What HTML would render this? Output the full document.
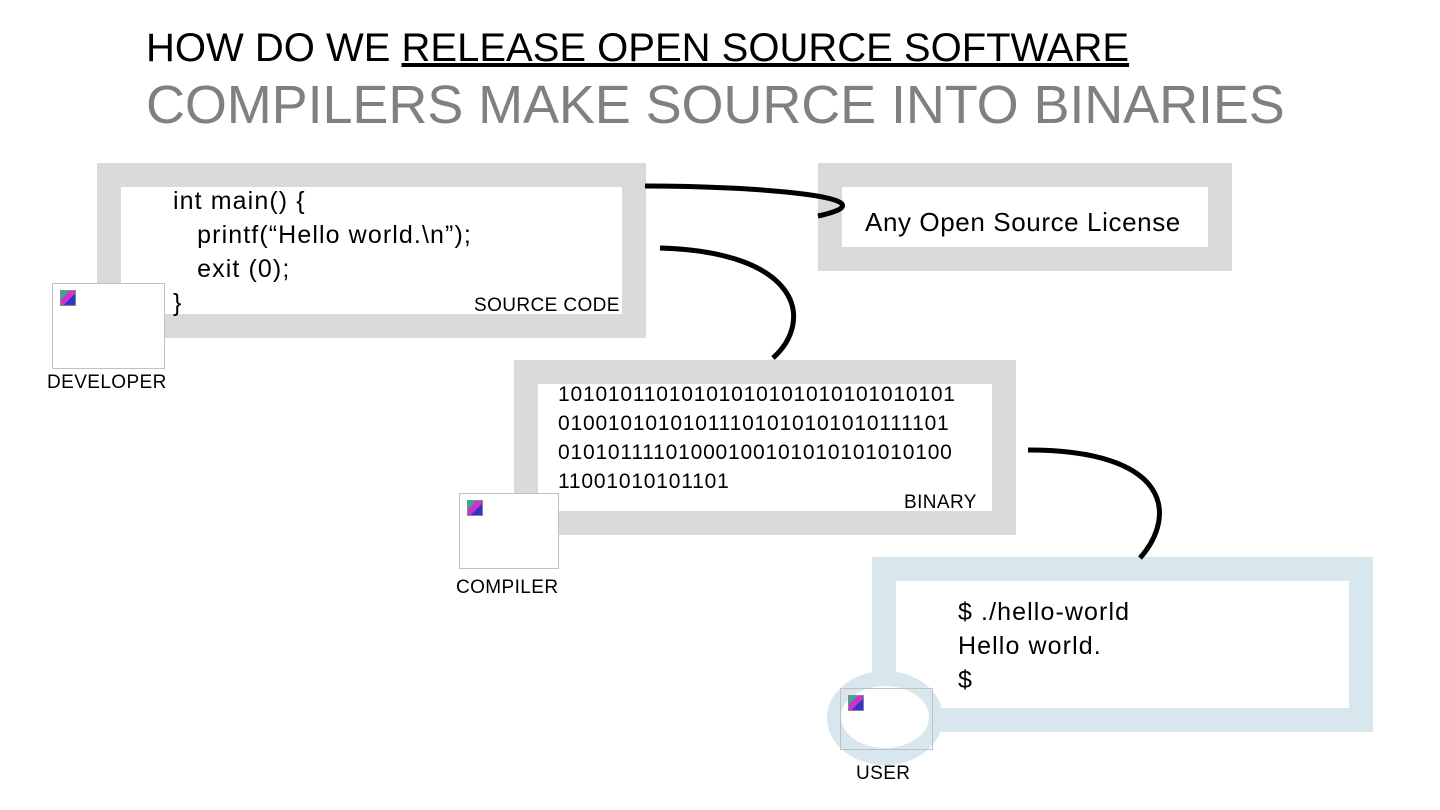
<!DOCTYPE html>
<html><head><style>
body{margin:0;width:1440px;height:810px;background:#fff;position:relative;overflow:hidden;font-family:"Liberation Sans",sans-serif}
.a{position:absolute}
.box{position:absolute;box-sizing:border-box;border:24px solid #d9dada;background:#fff}
.ic{position:absolute;border:1px solid #c0c0c0;background:#fff;box-sizing:border-box}
.ic i{position:absolute;left:7px;top:6px;width:14px;height:14px;background:linear-gradient(135deg,#3a8 0 30%,#c3c 30% 60%,#33c 60%);border:1px solid #888}
.t{font-size:25px;line-height:34px;color:#000;white-space:pre;letter-spacing:1.1px}
.l{font-size:19px;color:#000;letter-spacing:0.4px}
</style></head><body>
<div class="a" style="left:146px;top:26px;font-size:40px;letter-spacing:0px">HOW DO WE <u>RELEASE OPEN SOURCE SOFTWARE</u></div>
<div class="a" style="left:146px;top:74px;font-size:54px;color:#808080;letter-spacing:-0.1px">COMPILERS MAKE SOURCE INTO BINARIES</div>

<div class="box" style="left:97px;top:163px;width:549px;height:175px"></div>
<div class="a t" style="left:173px;top:184px">int main() {
   printf(“Hello world.\n”);
   exit (0);
}</div>
<div class="a l" style="left:474px;top:295px">SOURCE CODE</div>

<div class="box" style="left:818px;top:163px;width:414px;height:108px"></div>
<div class="a" style="left:865px;top:207px;font-size:26px;letter-spacing:0.6px">Any Open Source License</div>

<div class="box" style="left:514px;top:360px;width:502px;height:175px"></div>
<div class="a" style="left:558px;top:380px;font-size:21px;line-height:29px;letter-spacing:0.8px">10101011010101010101010101010101<br>01001010101011101010101010111101<br>01010111101000100101010101010100<br>11001010101101</div>
<div class="a l" style="left:904px;top:492px">BINARY</div>

<div class="box" style="left:872px;top:557px;width:501px;height:175px;border-color:#d8e6ee"></div>
<div class="a" style="left:827px;top:671px;width:116px;height:94px;border-radius:50%;background:#d8e6ee"></div>
<div class="a" style="left:841px;top:686px;width:88px;height:62px;border-radius:50%;background:#fff"></div>
<div class="a t" style="left:958px;top:595px">$ ./hello-world
Hello world.
$</div>

<div class="ic" style="left:52px;top:283px;width:113px;height:86px"><i></i></div>
<div class="a l" style="left:47px;top:372px">DEVELOPER</div>
<div class="ic" style="left:459px;top:493px;width:100px;height:76px"><i></i></div>
<div class="a l" style="left:456px;top:577px">COMPILER</div>
<div class="ic" style="left:840px;top:688px;width:93px;height:62px;background:transparent"><i></i></div>
<div class="a l" style="left:856px;top:763px">USER</div>

<svg class="a" style="left:0;top:0" width="1440" height="810">
<g fill="none" stroke="#000" stroke-width="5">
<path d="M645 186 C 760 186, 900 198, 818 216"/>
<path d="M660 248 C 800 252, 815 320, 773 358"/>
<path d="M1028 450 C 1170 450, 1178 515, 1140 558"/>
</g></svg>
</body></html>
